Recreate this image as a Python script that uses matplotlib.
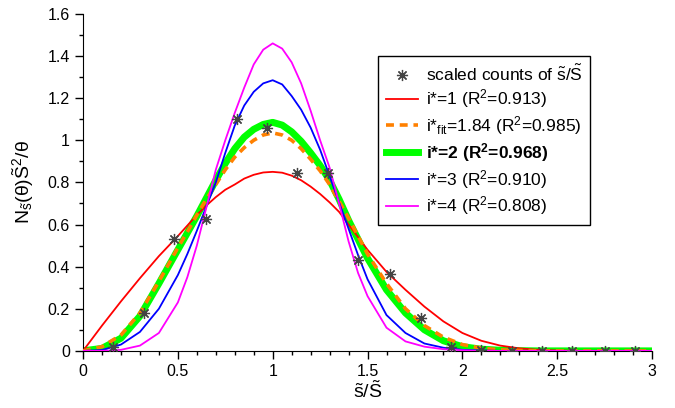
import matplotlib
matplotlib.use('Agg')
import matplotlib.pyplot as plt
from matplotlib.ticker import MultipleLocator, FormatStrFormatter

plt.rcParams['font.family'] = ['Liberation Sans', 'DejaVu Sans']
plt.rcParams['mathtext.fontset'] = 'custom'
plt.rcParams['mathtext.rm'] = 'Liberation Sans'
plt.rcParams['mathtext.it'] = 'Liberation Sans'
plt.rcParams['mathtext.bf'] = 'Liberation Sans:bold'

# scaled counts (stars)
x_counts = [0.16, 0.32, 0.48, 0.65, 0.81, 0.97, 1.13, 1.29, 1.45, 1.62,
            1.78, 1.94, 2.10, 2.26, 2.42, 2.58, 2.75, 2.91]
y_counts = [0.02, 0.18, 0.53, 0.625, 1.10, 1.057, 0.843, 0.845, 0.432, 0.365,
            0.155, 0.02, 0.005, 0.0, 0.0, 0.0, 0.0, 0.0]

# model curves
x_fit = [0.0, 0.1, 0.2, 0.3, 0.4, 0.5, 0.55, 0.6, 0.65, 0.7, 0.75, 0.8,
         0.85, 0.9, 0.95, 1.0, 1.05, 1.1, 1.15, 1.2, 1.25, 1.3, 1.35, 1.4,
         1.45, 1.5, 1.6, 1.7, 1.8, 1.9, 2.0, 2.1, 2.2, 2.3, 2.4, 2.5,
         2.6, 2.7, 2.8, 2.9, 3.0]
y_i1 = [0, 0.12, 0.235, 0.345, 0.45, 0.545, 0.595, 0.645, 0.69, 0.73, 0.765, 0.79,
        0.818, 0.836, 0.847, 0.85, 0.846, 0.832, 0.81, 0.78, 0.745, 0.705, 0.66, 0.60,
        0.54, 0.48, 0.375, 0.29, 0.21, 0.14, 0.085, 0.048, 0.025, 0.012, 0.005, 0.002,
        0, 0, 0, 0, 0]
y_ifit = [0, 0.02, 0.075, 0.18, 0.33, 0.49, 0.565, 0.645, 0.72, 0.79, 0.86, 0.92,
          0.965, 1.0, 1.025, 1.035, 1.025, 1.0, 0.96, 0.91, 0.855, 0.79, 0.71, 0.63,
          0.545, 0.46, 0.32, 0.2, 0.12, 0.065, 0.03, 0.013, 0.005, 0.002, 0, 0,
          0, 0, 0, 0, 0]
y_i2 = [0, 0.012, 0.06, 0.165, 0.32, 0.48, 0.56, 0.64, 0.725, 0.81, 0.89, 0.96,
        1.015, 1.052, 1.075, 1.085, 1.072, 1.04, 0.995, 0.94, 0.88, 0.81, 0.72, 0.62,
        0.53, 0.44, 0.29, 0.18, 0.10, 0.048, 0.02, 0.008, 0.003, 0.001, 0, 0,
        0, 0, 0, 0, 0]
y_i3 = [0, 0.004, 0.03, 0.09, 0.2, 0.36, 0.46, 0.57, 0.685, 0.8, 0.94, 1.07,
        1.165, 1.23, 1.27, 1.285, 1.265, 1.21, 1.145, 1.06, 0.955, 0.83, 0.705, 0.58,
        0.455, 0.34, 0.17, 0.085, 0.035, 0.015, 0.005, 0.002, 0, 0, 0, 0,
        0, 0, 0, 0, 0]
y_i4 = [0, 0, 0.005, 0.025, 0.085, 0.23, 0.35, 0.5, 0.68, 0.86, 1.0, 1.13,
        1.25, 1.36, 1.43, 1.46, 1.435, 1.37, 1.27, 1.14, 1.0, 0.87, 0.7, 0.52,
        0.37, 0.26, 0.11, 0.045, 0.02, 0.008, 0.003, 0, 0, 0, 0, 0,
        0, 0, 0, 0, 0]

fig = plt.figure(figsize=(6.75, 4.08), dpi=100)
ax = fig.add_axes([0.123, 0.14, 0.843, 0.826])

h_green, = ax.plot(x_fit, y_i2, color='#00ff00', lw=5, zorder=2,
                   label=r'i*=2 (R$^\mathbf{2}$=0.968)')
h_red, = ax.plot(x_fit, y_i1, color='#ff0000', lw=1.3, zorder=3,
                 label=r'i*=1 (R$^2$=0.913)')
h_orange, = ax.plot(x_fit, y_ifit, color='#ff8000', lw=2.6, ls=(0, (2.2, 1.6)),
                    zorder=3, label=r'i*$_\mathrm{fit}$=1.84 (R$^2$=0.985)')
h_blue, = ax.plot(x_fit, y_i3, color='#0000ff', lw=1.3, zorder=3,
                  label=r'i*=3 (R$^2$=0.910)')
h_mag, = ax.plot(x_fit, y_i4, color='#ff00ff', lw=1.3, zorder=3,
                 label=r'i*=4 (R$^2$=0.808)')
h_star, = ax.plot(x_counts, y_counts, ls='none', marker=(8, 2, 0), ms=8,
                  mew=0.9, color='#444444', zorder=4,
                  label=r'scaled counts of $\tilde{\mathrm{s}}/\tilde{\mathrm{S}}$')

ax.set_xlim(0, 3)
ax.set_ylim(0, 1.6)
ax.xaxis.set_major_locator(MultipleLocator(0.5))
ax.xaxis.set_minor_locator(MultipleLocator(0.1))
ax.yaxis.set_major_locator(MultipleLocator(0.2))
ax.yaxis.set_minor_locator(MultipleLocator(0.1))
ax.xaxis.set_major_formatter(FormatStrFormatter('%g'))
ax.yaxis.set_major_formatter(FormatStrFormatter('%g'))
ax.tick_params(which='major', direction='out', length=6, width=1, labelsize=11.5)
ax.tick_params(which='minor', direction='out', length=3, width=1)
ax.spines['top'].set_visible(False)
ax.spines['right'].set_visible(False)

ax.set_xlabel(r'$\tilde{\mathrm{s}}/\tilde{\mathrm{S}}$', fontsize=14, labelpad=1)
ax.set_ylabel(r'$\mathrm{N_{\tilde{s}}(\theta)\tilde{S}^2/\theta}$', fontsize=14, labelpad=8)

leg = ax.legend(handles=[h_star, h_red, h_orange, h_green, h_blue, h_mag],
                loc='upper left', bbox_to_anchor=(0.503, 0.902), fontsize=12.5,
                frameon=True, fancybox=False, framealpha=1, edgecolor='black',
                handlelength=1.85, handletextpad=0.45, labelspacing=0.22,
                borderpad=0.45)
leg.get_frame().set_linewidth(1.0)
leg.get_texts()[3].set_fontweight('bold')

fig.savefig('out.png', dpi=100)
